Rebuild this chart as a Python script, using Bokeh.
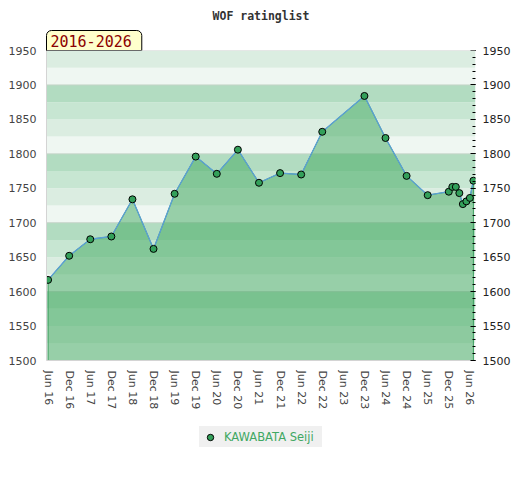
import numpy as np
from bokeh.plotting import figure
from bokeh.layouts import column
from bokeh.models import (Range1d, LinearAxis, SingleIntervalTicker, FixedTicker,
                          BoxAnnotation, Span, Title, Legend, LegendItem, ColumnDataSource)
from bokeh.embed import file_html
from bokeh.resources import INLINE

# ---- data ----
dates = ["2016-06", "2016-12", "2017-06", "2017-12", "2018-06", "2018-12",
         "2019-06", "2019-12", "2020-06", "2020-12", "2021-06", "2021-12",
         "2022-06", "2022-12", "2023-12", "2024-06", "2024-12", "2025-06",
         "2025-12", "2026-01", "2026-02", "2026-03", "2026-04", "2026-05",
         "2026-06", "2026-07"]
ratings = [1617, 1652, 1676, 1680, 1734, 1662,
           1742, 1796, 1771, 1806, 1758, 1772,
           1770, 1832, 1884, 1823, 1768, 1740,
           1745, 1752, 1752, 1743, 1727, 1731,
           1736, 1761]
tick_dates = ["2016-06", "2016-12", "2017-06", "2017-12", "2018-06", "2018-12",
              "2019-06", "2019-12", "2020-06", "2020-12", "2021-06", "2021-12",
              "2022-06", "2022-12", "2023-06", "2023-12", "2024-06", "2024-12",
              "2025-06", "2025-12", "2026-06"]
tick_labels = ["Jun 16", "Dec 16", "Jun 17", "Dec 17", "Jun 18", "Dec 18",
               "Jun 19", "Dec 19", "Jun 20", "Dec 20", "Jun 21", "Dec 21",
               "Jun 22", "Dec 22", "Jun 23", "Dec 23", "Jun 24", "Dec 24",
               "Jun 25", "Dec 25", "Jun 26"]
player = "KAWABATA Seiji"
title_text = "WOF ratinglist"
period_text = "2016-2026"


def month_index(s):
    y, m = s.split("-")
    return (int(y) - 2016) * 12 + (int(m) - 6)


xs = [month_index(d) for d in dates]
ticks = [month_index(d) for d in tick_dates]

Y0, Y1 = 1500, 1950
POINT_FILL = "#33a05a"

p = figure(width=515, height=415, output_backend="svg", toolbar_location=None,
           x_range=Range1d(-0.45, 121.6), y_range=Range1d(Y0, Y1),
           min_border_left=46, min_border_right=40, min_border_top=50,
           min_border_bottom=55)
p.background_fill_color = "white"
p.border_fill_color = "white"
p.outline_line_color = None
p.xgrid.visible = False
p.ygrid.visible = False

# titles
p.title.text = title_text
p.title.align = "center"
p.title.text_font = "DejaVu Sans Mono"
p.title.text_font_style = "bold"
p.title.text_font_size = "11.5px"
p.title.text_color = "#333333"
p.title.standoff = 12

tab = Title(text=period_text, align="left", text_font="DejaVu Sans Mono",
            text_font_size="15px", text_font_style="normal", text_color="#8b0000",
            background_fill_color="#ffffcc", background_fill_alpha=1,
            border_line_color="black", border_line_width=1,
            padding=dict(left=4, right=10, top=4, bottom=4),
            border_radius=dict(top_left=5, top_right=5, bottom_right=0, bottom_left=0),
            standoff=0, offset=0)
p.add_layout(tab, "above")

# background bands
band_colors = ["#eff7f2", "#dbede1", "#c7e6d2", "#b2dcc1"]
for i, b in enumerate(range(Y0, Y1, 25)):
    p.add_layout(BoxAnnotation(bottom=b, top=b + 25, fill_color=band_colors[i % 4],
                               fill_alpha=1, line_color=None, level="underlay"))
for g in range(1600, Y1 + 1, 100):
    p.add_layout(Span(location=g, dimension="width", line_color="#c4d4c8",
                      line_width=1, level="underlay"))

# area
px = [xs[0]] + xs + [xs[-1]]
py = [Y0] + ratings + [Y0]
p.patch(px, py, fill_color="#3fa75d", fill_alpha=0.5,
        line_color="#3a9d5d", line_width=1)
p.line(xs, ratings, line_color="#5b9fd6", line_width=1.3)
src = ColumnDataSource(dict(x=xs, y=ratings))
p.scatter("x", "y", source=src, size=7, fill_color=POINT_FILL,
          line_color="black", line_width=1)

# axes
p.yaxis.ticker = SingleIntervalTicker(interval=50, num_minor_ticks=5)
p.yaxis.major_tick_out = 0
p.yaxis.major_tick_in = 0
p.yaxis.minor_tick_out = 0
p.yaxis.minor_tick_in = 0
p.yaxis.major_tick_line_color = None
p.yaxis.minor_tick_line_color = None
p.yaxis.axis_line_color = "#d4d4d4"
p.yaxis.major_label_text_font = "DejaVu Sans"
p.yaxis.major_label_text_font_size = "11px"
p.yaxis.major_label_text_color = "#444444"
p.yaxis.major_label_standoff = 10

ry = LinearAxis(ticker=SingleIntervalTicker(interval=50, num_minor_ticks=5))
ry.axis_line_color = None
ry.major_tick_in = 5
ry.major_tick_out = 0
ry.minor_tick_in = 3
ry.minor_tick_out = 0
ry.major_tick_line_color = "black"
ry.minor_tick_line_color = "black"
ry.major_label_text_font = "DejaVu Sans"
ry.major_label_text_font_size = "11px"
ry.major_label_text_color = "#222222"
ry.major_label_standoff = 7
p.add_layout(ry, "right")

p.xaxis.ticker = FixedTicker(ticks=ticks)
p.xaxis.major_label_overrides = {t: l for t, l in zip(ticks, tick_labels)}
p.xaxis.major_label_orientation = "vertical"
p.xaxis.major_tick_out = 0
p.xaxis.major_tick_in = 0
p.xaxis.minor_tick_out = 0
p.xaxis.minor_tick_in = 0
p.xaxis.major_tick_line_color = None
p.xaxis.minor_tick_line_color = None
p.xaxis.axis_line_color = "#d4d4d4"
p.xaxis.major_label_text_font = "DejaVu Sans"
p.xaxis.major_label_text_font_size = "11px"
p.xaxis.major_label_text_color = "#444444"
p.xaxis.major_label_standoff = 10

p.add_layout(Span(location=Y1, dimension="width", line_color="#d4d4d4", line_width=1))

# legend strip below the chart (its key glyph uses the same data, far outside its own frame)
lg = figure(width=515, height=60, output_backend="svg", toolbar_location=None,
            x_range=Range1d(0, 1), y_range=Range1d(0, 1),
            x_axis_type=None, y_axis_type=None, min_border=0)
lg.outline_line_color = None
lg.xgrid.visible = False
lg.ygrid.visible = False
lg.background_fill_color = "white"
lg.border_fill_color = "white"
key = lg.scatter("x", "y", source=src, size=7, fill_color=POINT_FILL,
                 line_color="black", line_width=1)
legend = Legend(items=[LegendItem(label=player, renderers=[key])],
                location=(153, 28), orientation="horizontal",
                background_fill_color="#f0f0f0", background_fill_alpha=1,
                border_line_color=None, padding=0, margin=0, spacing=0,
                glyph_width=22, glyph_height=16, label_width=98, label_height=21,
                label_standoff=3,
                label_text_font="DejaVu Sans", label_text_font_size="11.5px",
                label_text_color="#3fa863")
lg.add_layout(legend, "center")

layout = column(p, lg, spacing=0)
open("out.html", "w").write(file_html(layout, INLINE))
